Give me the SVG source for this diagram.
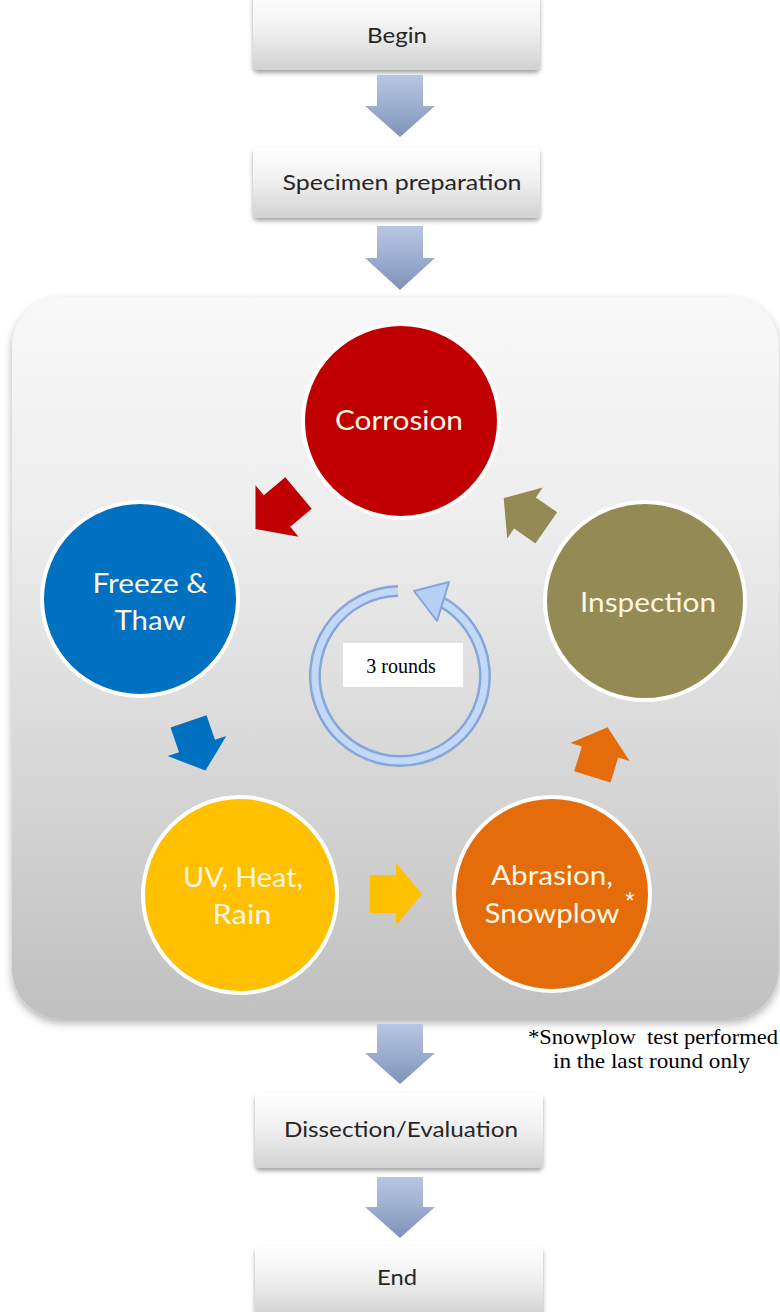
<svg xmlns="http://www.w3.org/2000/svg" width="780" height="1312" viewBox="0 0 780 1312">
<defs>
<linearGradient id="boxGrad" x1="0" y1="0" x2="0" y2="1">
<stop offset="0" stop-color="#ffffff"/>
<stop offset="0.45" stop-color="#f1f1f1"/>
<stop offset="1" stop-color="#d2d2d2"/>
</linearGradient>
<linearGradient id="arrowGrad" x1="0" y1="0" x2="0" y2="1">
<stop offset="0" stop-color="#b7c6e2"/>
<stop offset="0.5" stop-color="#9caed0"/>
<stop offset="1" stop-color="#7f92b6"/>
</linearGradient>
<linearGradient id="bgGrad" x1="0" y1="0" x2="0" y2="1">
<stop offset="0" stop-color="#f8f8f8"/>
<stop offset="0.3" stop-color="#eeeeee"/>
<stop offset="1" stop-color="#c0c0c0"/>
</linearGradient>
<filter id="shadow" x="-10%" y="-10%" width="120%" height="130%">
<feDropShadow dx="0" dy="3" stdDeviation="2" flood-color="#000" flood-opacity="0.35"/>
</filter>
<filter id="bgShadow" x="-5%" y="-5%" width="110%" height="110%">
<feDropShadow dx="0" dy="4" stdDeviation="4" flood-color="#000" flood-opacity="0.3"/>
</filter>
<path id="blk" d="M -26,-19 L 0,-19 L 0,-31 L 26,0 L 0,31 L 0,19 L -26,19 Z"/>
</defs>
<style>
.box{fill:url(#boxGrad);filter:url(#shadow);}
.boxtxt{font-family:Lato,"Open Sans","Liberation Sans",sans-serif;font-size:21px;fill:#262626;text-anchor:middle;dominant-baseline:central;}
.circ{stroke:#ffffff;stroke-width:4;}
.ctxt{font-family:Lato,"Open Sans","Liberation Sans",sans-serif;font-size:26px;fill:#fdf6e3;text-anchor:middle;dominant-baseline:central;}
.garrow{fill:url(#arrowGrad);}
.serif{font-family:"Liberation Serif","Times New Roman",serif;fill:#000;}
</style>
<rect width="780" height="1312" fill="#ffffff"/>

<g id="cycle-panel">
<rect x="12" y="297" width="767" height="722" rx="50" ry="50" fill="url(#bgGrad)" filter="url(#bgShadow)"/>
</g>

<g id="begin">
<rect class="box" x="253" y="-6" width="287" height="76" rx="5"/>
<text class="boxtxt" x="397" y="34" textLength="60" lengthAdjust="spacingAndGlyphs">Begin</text>
</g>
<g id="specimen">
<rect class="box" x="253" y="147" width="287" height="71" rx="5"/>
<text class="boxtxt" x="402" y="181" textLength="239" lengthAdjust="spacingAndGlyphs">Specimen preparation</text>
</g>
<g id="dissection">
<rect class="box" x="255" y="1093" width="288" height="75" rx="5"/>
<text class="boxtxt" x="401" y="1128" textLength="234" lengthAdjust="spacingAndGlyphs">Dissection/Evaluation</text>
</g>
<g id="end">
<rect class="box" x="255" y="1246" width="288" height="70" rx="5"/>
<text class="boxtxt" x="397" y="1276" textLength="40" lengthAdjust="spacingAndGlyphs">End</text>
</g>

<g id="corrosion">
<ellipse class="circ" cx="401" cy="421" rx="98" ry="97" fill="#c00000"/>
<text class="ctxt" x="399" y="420" textLength="128" lengthAdjust="spacingAndGlyphs">Corrosion</text>
</g>
<g id="freeze">
<ellipse class="circ" cx="140" cy="599" rx="98" ry="97" fill="#0070c0"/>
<text class="ctxt" x="150" y="583" textLength="115" lengthAdjust="spacingAndGlyphs">Freeze &amp;</text>
<text class="ctxt" x="150" y="620" textLength="71" lengthAdjust="spacingAndGlyphs">Thaw</text>
</g>
<g id="inspection">
<ellipse class="circ" cx="645" cy="601" rx="100" ry="99" fill="#948a54"/>
<text class="ctxt" x="648" y="602" textLength="136" lengthAdjust="spacingAndGlyphs">Inspection</text>
</g>
<g id="uv">
<ellipse class="circ" cx="240" cy="895" rx="97" ry="98" fill="#ffc000"/>
<text class="ctxt" x="243" y="877" textLength="120" lengthAdjust="spacingAndGlyphs">UV, Heat,</text>
<text class="ctxt" x="242" y="914" textLength="59" lengthAdjust="spacingAndGlyphs">Rain</text>
</g>
<g id="abrasion">
<ellipse class="circ" cx="552" cy="894" rx="98" ry="97" fill="#e46c0a"/>
<text class="ctxt" x="552" y="875" textLength="122" lengthAdjust="spacingAndGlyphs">Abrasion,</text>
<text class="ctxt" x="552" y="913" textLength="135" lengthAdjust="spacingAndGlyphs">Snowplow</text>
<text x="630" y="909" font-family="'Liberation Sans',sans-serif" font-size="24" fill="#ffffff" text-anchor="middle">*</text>
</g>

<g id="connectors">
<polygon class="garrow" points="377,75 423,75 423,106 435,106 400,137 365,106 377,106"/>
<polygon class="garrow" points="377,226 423,226 423,258 435,258 400,290 365,258 377,258"/>
<polygon class="garrow" points="377,1024 423,1024 423,1053 435,1053 400,1084 365,1053 377,1053"/>
<polygon class="garrow" points="377,1177 423,1177 423,1207 435,1207 400,1238 365,1207 377,1207"/>
<use href="#blk" fill="#c00000" transform="translate(277,511) rotate(140) scale(1.08)"/>
<use href="#blk" fill="#0070c0" transform="translate(197,746) rotate(71)"/>
<use href="#blk" fill="#ffc000" transform="translate(396,894)"/>
<use href="#blk" fill="#e46c0a" transform="translate(600,752) rotate(-73)"/>
<use href="#blk" fill="#948a54" transform="translate(525,513) rotate(215)"/>
</g>

<g id="rounds">
<path d="M 398,591 A 85 85 0 1 0 442.5,602.4" fill="none" stroke="#86a6d8" stroke-width="12"/>
<path d="M 398,591 A 85 85 0 1 0 442.5,602.4" fill="none" stroke="#c4d8f8" stroke-width="7"/>
<polygon points="414,591 449,582 437,621" fill="#b9d0f6" stroke="#86a6d8" stroke-width="2" stroke-linejoin="round"/>
<rect x="343" y="643" width="120" height="44" fill="#ffffff"/>
<text class="serif" x="401" y="673" font-size="20" text-anchor="middle">3 rounds</text>
</g>

<g id="footnote">
<text class="serif" x="528" y="1044" font-size="21" textLength="250" lengthAdjust="spacingAndGlyphs" xml:space="preserve">*Snowplow  test performed</text>
<text class="serif" x="553" y="1068" font-size="21" textLength="197" lengthAdjust="spacingAndGlyphs">in the last round only</text>
</g>
</svg>
